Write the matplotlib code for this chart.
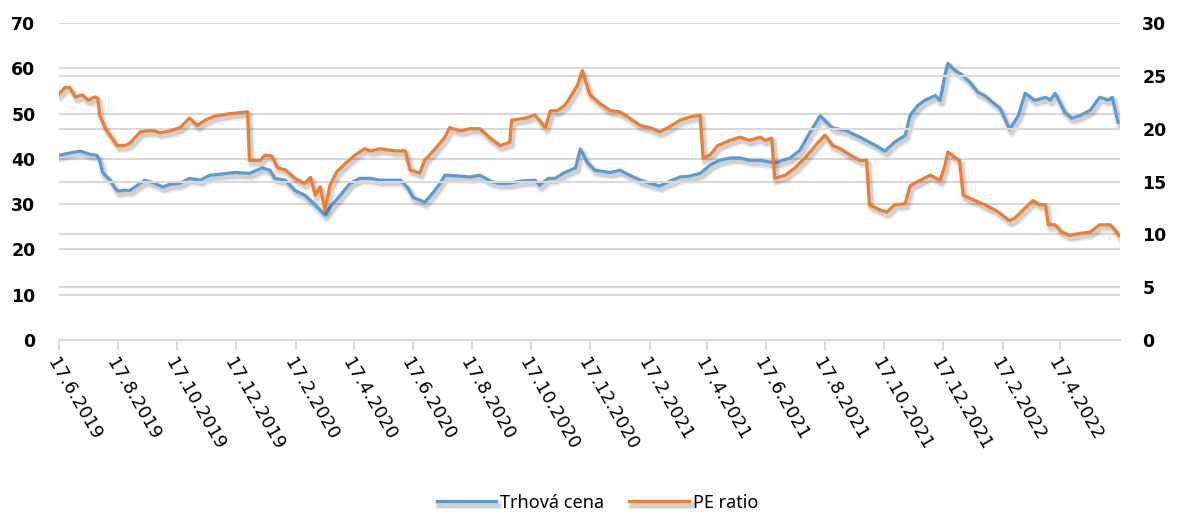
import pandas as pd
import matplotlib
matplotlib.use("Agg")
import matplotlib.pyplot as plt
import matplotlib.patheffects as pe

# start of the series, x values are days after this date
start = pd.Timestamp("2019-06-17")

# Trhova cena (left axis)
price_days = [0, 11, 22, 32, 39, 42, 45, 53, 58, 61,
              68, 73, 84, 89, 99, 107, 115, 125, 135, 146,
              156, 166, 182, 197, 210, 218, 223, 234, 244, 254,
              265, 270, 275, 280, 291, 301, 311, 322, 332, 342,
              353, 361, 366, 373, 378, 387, 394, 399, 415, 425,
              435, 446, 454, 466, 477, 492, 497, 506, 513, 523,
              534, 539, 546, 554, 570, 580, 590, 601, 611, 621,
              630, 642, 652, 663, 673, 683, 694, 704, 714, 725,
              735, 743, 756, 766, 776, 787, 800, 813, 828, 844,
              854, 864, 875, 880, 888, 895, 906, 911, 916, 919,
              926, 934, 942, 950, 957, 963, 973, 983, 992, 999,
              1009, 1020, 1025, 1030, 1040, 1047, 1056, 1066, 1076, 1085,
              1089, 1095]
price = [40.8, 41.3, 41.7, 41.0, 40.8, 39.7, 37.0, 35.3, 33.5, 32.9,
         33.1, 33.0, 34.6, 35.3, 34.6, 33.8, 34.4, 34.6, 35.7, 35.3,
         36.4, 36.6, 37.0, 36.8, 38.0, 37.5, 35.7, 35.3, 33.0, 32.0,
         29.8, 28.7, 27.6, 29.3, 32.0, 34.6, 35.7, 35.7, 35.3, 35.3,
         35.3, 33.5, 31.5, 30.9, 30.4, 32.6, 34.6, 36.4, 36.2, 36.0,
         36.4, 35.1, 34.6, 34.6, 35.1, 35.3, 34.2, 35.7, 35.7, 37.0,
         38.0, 42.2, 39.3, 37.5, 37.0, 37.5, 36.4, 35.3, 34.6, 34.0,
         34.9, 36.0, 36.2, 36.8, 38.6, 39.7, 40.2, 40.2, 39.7, 39.7,
         39.3, 39.3, 40.2, 41.9, 45.7, 49.5, 46.8, 46.3, 44.8, 43.0,
         41.7, 43.7, 45.2, 49.6, 51.8, 52.9, 54.0, 52.9, 58.5, 61.1,
         59.6, 58.5, 56.9, 54.7, 54.0, 52.9, 51.2, 46.5, 49.6, 54.5,
         52.9, 53.6, 53.0, 54.5, 50.3, 49.0, 49.6, 50.7, 53.6, 53.0,
         53.6, 48.1]

# PE ratio (right axis)
pe_days = [0, 6, 11, 17, 24, 30, 37, 40, 42, 48,
           55, 60, 68, 73, 84, 91, 99, 104, 115, 125,
           135, 143, 151, 161, 175, 195, 197, 208, 213, 220,
           226, 234, 244, 254, 260, 265, 270, 275, 280, 287,
           296, 306, 316, 322, 332, 347, 358, 363, 373, 378,
           389, 399, 404, 415, 425, 435, 446, 456, 466, 468,
           482, 492, 503, 508, 515, 523, 528, 536, 541, 549,
           559, 570, 580, 590, 601, 611, 621, 630, 642, 652,
           663, 666, 673, 681, 694, 704, 714, 725, 730, 737,
           740, 751, 761, 771, 782, 792, 800, 808, 818, 828,
           835, 838, 849, 856, 864, 875, 880, 890, 901, 911,
           916, 919, 926, 931, 935, 942, 957, 968, 983, 988,
           999, 1007, 1014, 1020, 1023, 1030, 1037, 1045, 1056, 1066,
           1076, 1087, 1092, 1096]
pe_ratio = [23.3, 23.9, 23.9, 23.0, 23.2, 22.7, 23.0, 22.9, 21.3, 20.0,
            19.1, 18.4, 18.4, 18.6, 19.7, 19.8, 19.8, 19.6, 19.8, 20.1,
            21.0, 20.3, 20.8, 21.2, 21.4, 21.6, 17.0, 17.0, 17.5, 17.4,
            16.3, 16.1, 15.3, 14.8, 15.4, 13.7, 14.5, 12.3, 14.6, 15.9,
            16.7, 17.5, 18.1, 17.9, 18.1, 17.9, 17.9, 16.1, 15.8, 17.0,
            18.1, 19.2, 20.1, 19.8, 20.0, 20.0, 19.1, 18.4, 18.7, 20.8,
            21.0, 21.3, 20.1, 21.7, 21.7, 22.2, 22.9, 24.1, 25.5, 23.2,
            22.4, 21.7, 21.6, 21.0, 20.3, 20.1, 19.7, 20.1, 20.8, 21.1,
            21.3, 17.2, 17.5, 18.4, 18.9, 19.2, 18.9, 19.2, 18.9, 19.1,
            15.3, 15.6, 16.3, 17.2, 18.4, 19.4, 18.4, 18.1, 17.5, 17.0,
            17.0, 12.8, 12.3, 12.1, 12.8, 12.9, 14.6, 15.1, 15.6, 15.1,
            16.5, 17.8, 17.3, 17.0, 13.7, 13.4, 12.8, 12.3, 11.3, 11.5,
            12.5, 13.2, 12.8, 12.8, 10.9, 10.9, 10.2, 9.9, 10.1, 10.2,
            10.9, 10.9, 10.4, 9.9]

left_ticks = [0, 10, 20, 30, 40, 50, 60, 70]
right_ticks = [0, 5, 10, 15, 20, 25, 30]

price_dates = start + pd.to_timedelta(price_days, unit="D")
pe_dates = start + pd.to_timedelta(pe_days, unit="D")
tick_dates = [start + pd.DateOffset(months=2 * i) for i in range(18)]
tick_labels = [f"{d.day}.{d.month}.{d.year}" for d in tick_dates]

blue = "#5B9BD5"
orange = "#ED7D31"
grid_c = "#D9D9D9"

shadow = [pe.SimpleLineShadow(offset=(1.5, -2.5), shadow_color="k", alpha=0.07, linewidth=6),
          pe.SimpleLineShadow(offset=(1.5, -2.5), shadow_color="k", alpha=0.12, linewidth=3.5),
          pe.Normal()]

fig = plt.figure(figsize=(11.83, 5.15), dpi=100)
ax = fig.add_axes([0.0499, 0.3398, 0.8968, 0.6155])
ax2 = ax.twinx()

ax.set_ylim(0, 70)
ax.set_yticks(left_ticks)
ax2.set_ylim(0, 30)
ax2.set_yticks(right_ticks)

for a in (ax, ax2):
    a.grid(axis="y", color=grid_c, linewidth=1.5)
    a.set_axisbelow(True)
    for s in ("top", "left", "right", "bottom"):
        a.spines[s].set_visible(False)
    a.tick_params(axis="y", length=0, labelsize=12.5, labelfontfamily="DejaVu Sans")
    plt.setp(a.get_yticklabels(), fontweight="bold")

ax.tick_params(axis="y", pad=17)
ax2.tick_params(axis="y", pad=16)

l1, = ax.plot(price_dates, price, color=blue, linewidth=2.3, label="Trhová cena",
              path_effects=shadow, zorder=3)
l2, = ax2.plot(pe_dates, pe_ratio, color=orange, linewidth=2.3, label="PE ratio",
               path_effects=shadow, zorder=3)

ax.set_xlim(start, start + pd.Timedelta(days=1097))
ax.spines["bottom"].set_visible(True)
ax.spines["bottom"].set_color(grid_c)
ax.spines["bottom"].set_linewidth(1.5)
ax.set_xticks(tick_dates)
ax.set_xticklabels(tick_labels, rotation=-60, ha="left", va="top",
                   rotation_mode="anchor", fontsize=13, family="DejaVu Sans")
ax.tick_params(axis="x", length=7, width=1.5, color=grid_c, pad=4)

fig.legend(handles=[l1, l2], loc="lower center", bbox_to_anchor=(0.505, -0.025),
           ncol=2, frameon=False, prop={"family": "Noto Sans", "size": 13},
           handlelength=3.3, columnspacing=1.4, handletextpad=0.2)

fig.savefig("out.png", dpi=100)
